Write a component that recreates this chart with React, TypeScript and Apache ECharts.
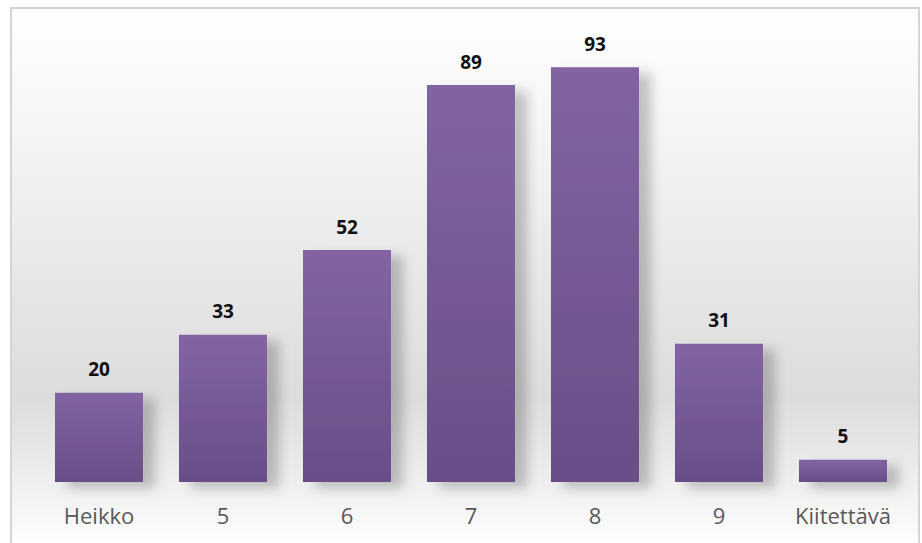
import React, { useEffect, useRef } from "react";
import * as echarts from "echarts";

const categories = ["Heikko", "5", "6", "7", "8", "9", "Kiitettävä"];
const values = [20, 33, 52, 89, 93, 31, 5];

export default function App() {
  const ref = useRef<HTMLDivElement>(null);
  useEffect(() => {
    const chart = echarts.init(ref.current!, null, { renderer: "svg" });
    chart.setOption({
      animation: false,
      graphic: [
        {
          type: "rect",
          z: -10,
          shape: { x: 11, y: 8, width: 908, height: 540 },
          style: {
            fill: new echarts.graphic.LinearGradient(0, 0, 0, 1, [
              { offset: 0, color: "#ffffff" },
              { offset: 0.2, color: "#f6f6f6" },
              { offset: 0.72, color: "#dcdcdc" },
              { offset: 0.86, color: "#ececec" },
              { offset: 1, color: "#ffffff" },
            ]),
            stroke: "#d4d4d4",
            lineWidth: 2,
          },
        },
      ],
      grid: { left: 37, right: 17, top: 36, bottom: 61 },
      xAxis: {
        type: "category",
        data: categories,
        axisLine: { show: false },
        axisTick: { show: false },
        axisLabel: {
          color: "#595959",
          fontSize: 22,
          fontFamily: "Open Sans",
          margin: 22,
          interval: 0,
          hideOverlap: false,
        },
      },
      yAxis: {
        type: "value",
        min: 0,
        max: 100,
        show: false,
        splitLine: { show: false },
      },
      series: [
        {
          type: "bar",
          data: values,
          barWidth: "71%",
          itemStyle: {
            color: new echarts.graphic.LinearGradient(0, 0, 0, 1, [
              { offset: 0, color: "#8264a3" },
              { offset: 1, color: "#684e88" },
            ]),
            shadowColor: "rgba(0,0,0,0.22)",
            shadowBlur: 12,
            shadowOffsetX: 12,
            shadowOffsetY: 6,
          },
          label: {
            show: true,
            position: "top",
            distance: 14,
            color: "#111",
            fontSize: 19,
            fontWeight: "bold",
            fontFamily: "Open Sans",
          },
        },
      ],
    });
    return () => chart.dispose();
  }, []);
  return <div ref={ref} style={{ width: 922, height: 543, position: "absolute", left: 0, top: 0 }} />;
}
